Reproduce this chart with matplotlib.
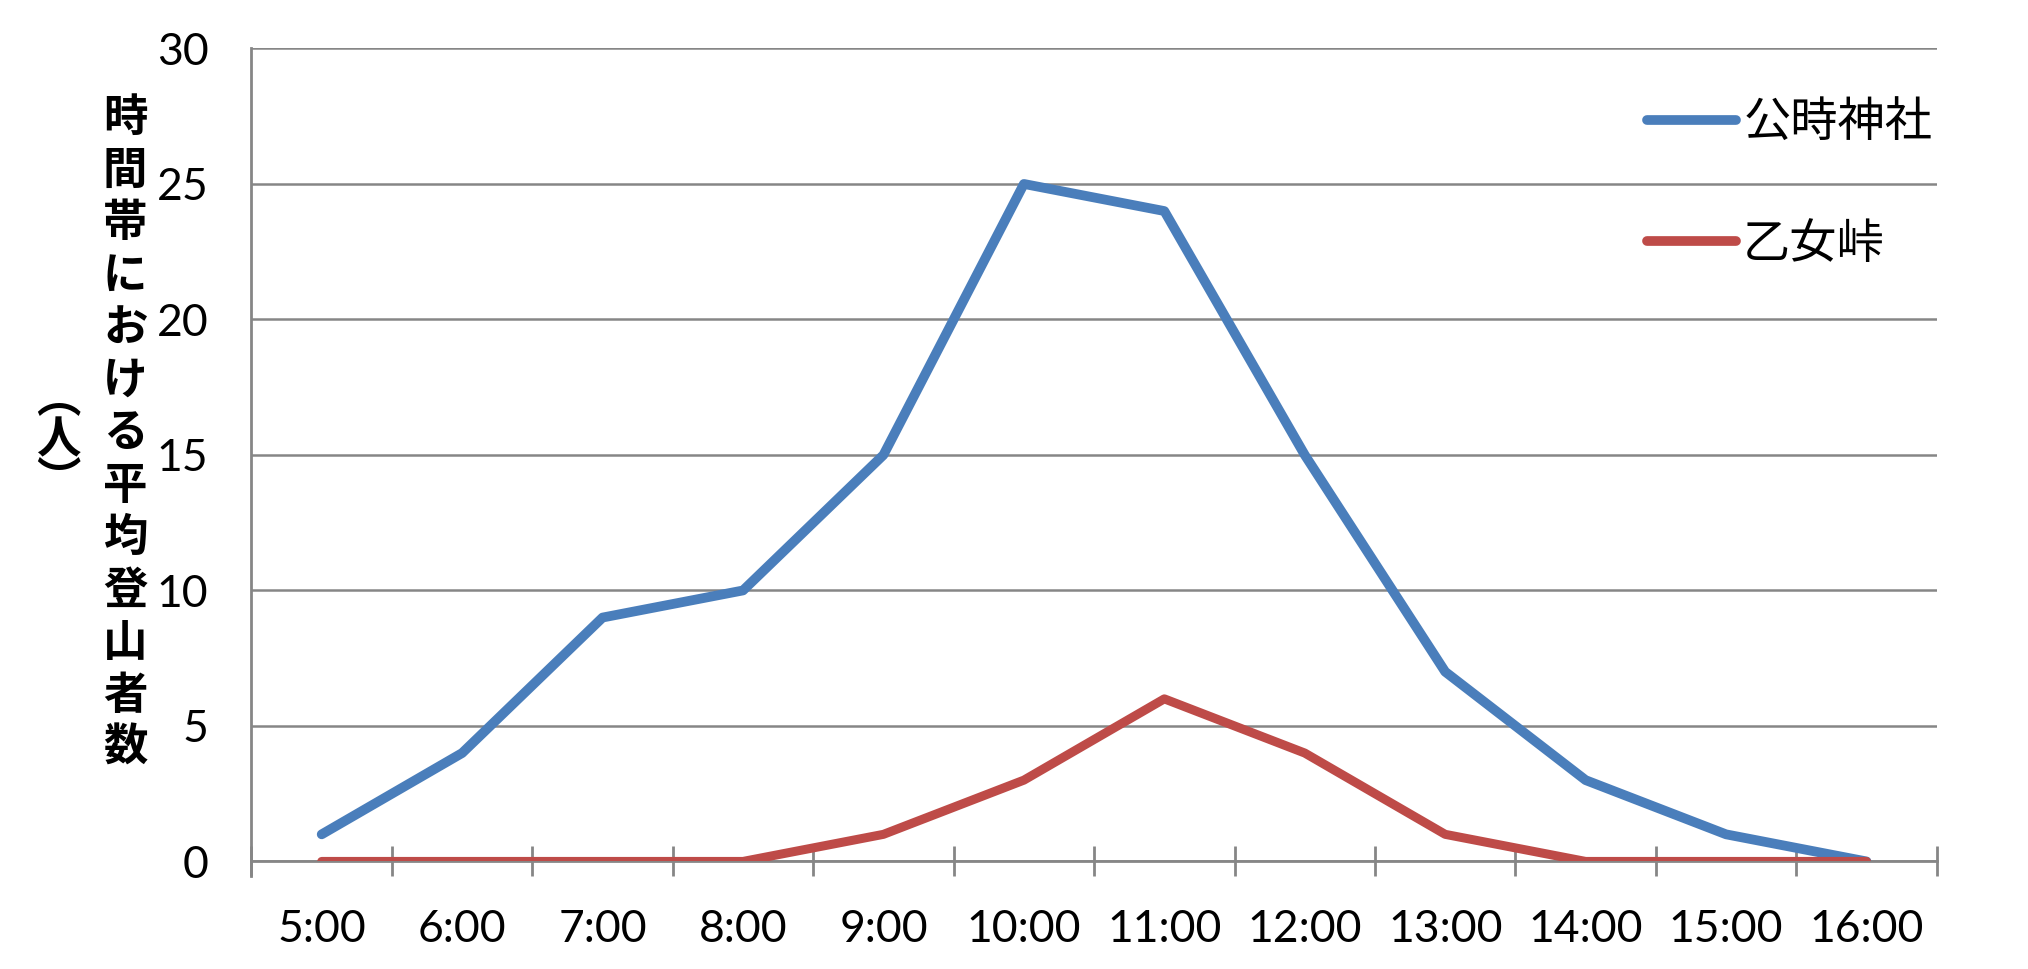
import matplotlib
matplotlib.use("Agg")
import matplotlib.pyplot as plt
import numpy as np

hours = ["5:00", "6:00", "7:00", "8:00", "9:00", "10:00", "11:00",
         "12:00", "13:00", "14:00", "15:00", "16:00"]
kintoki = [1, 4, 9, 10, 15, 25, 24, 15, 7, 3, 1, 0]
otome = [0, 0, 0, 0, 1, 3, 6, 4, 1, 0, 0, 0]
series_names = ["公時神社", "乙女峠"]
y_ticks = [0, 5, 10, 15, 20, 25, 30]

plt.rcParams['font.family'] = ['Noto Sans CJK JP', 'DejaVu Sans']

fig = plt.figure(figsize=(20.28, 9.69), dpi=100)
ax = fig.add_axes([0.124, 0.111, 0.831, 0.839])

grid_col = "#868686"
x = np.arange(len(hours))
ax.plot(x, kintoki, color="#4A7EBB", lw=7, solid_capstyle="round",
        solid_joinstyle="round", label=series_names[0], zorder=3)
ax.plot(x, otome, color="#BE4B48", lw=6.5, solid_capstyle="round",
        solid_joinstyle="round", label=series_names[1], zorder=3)

ax.set_xlim(-0.5, len(hours) - 0.5)
ax.set_ylim(0, 30)
ax.set_yticks(y_ticks)
ax.yaxis.grid(True, color=grid_col, lw=1.8)
ax.set_axisbelow(True)
ax.tick_params(axis="y", length=0, pad=31, labelsize=32)
for lab in ax.get_yticklabels():
    lab.set_family("Lato")

# tick marks between categories, labels at centres
ax.set_xticks(np.arange(-0.5, len(hours), 1.0))
ax.set_xticklabels([])
ax.set_xticks(x, minor=True)
ax.set_xticklabels(hours, minor=True, family="Lato", fontsize=32)
ax.tick_params(axis="x", which="major", direction="inout", length=22,
               width=2, color=grid_col)
ax.tick_params(axis="x", which="minor", length=0, pad=34)

for s in ["top", "right"]:
    ax.spines[s].set_visible(False)
for s in ["left", "bottom"]:
    ax.spines[s].set_color(grid_col)
    ax.spines[s].set_linewidth(2)
ax.spines["left"].set_bounds(-0.55, 30)

leg = ax.legend(loc="upper left", bbox_to_anchor=(0.814, 0.967), frameon=False,
                fontsize=34, handlelength=1.89, handletextpad=0.15,
                labelspacing=1.54, borderpad=0)
for h in leg.get_lines():
    h.set_linewidth(7)
    h.set_solid_capstyle("round")

# vertical y label, written as Japanese vertical text
label = "時間帯における平均登山者数"
fig.text(0.0617, 0.553, "\n".join(label), ha="center", va="center",
         fontsize=32, fontweight="bold", linespacing=1.18)
fig.text(0.0286, 0.546, "\n".join("︵人︶"), ha="center", va="center",
         fontsize=32, fontweight="bold", linespacing=0.85)

fig.savefig("out.png", dpi=100)
